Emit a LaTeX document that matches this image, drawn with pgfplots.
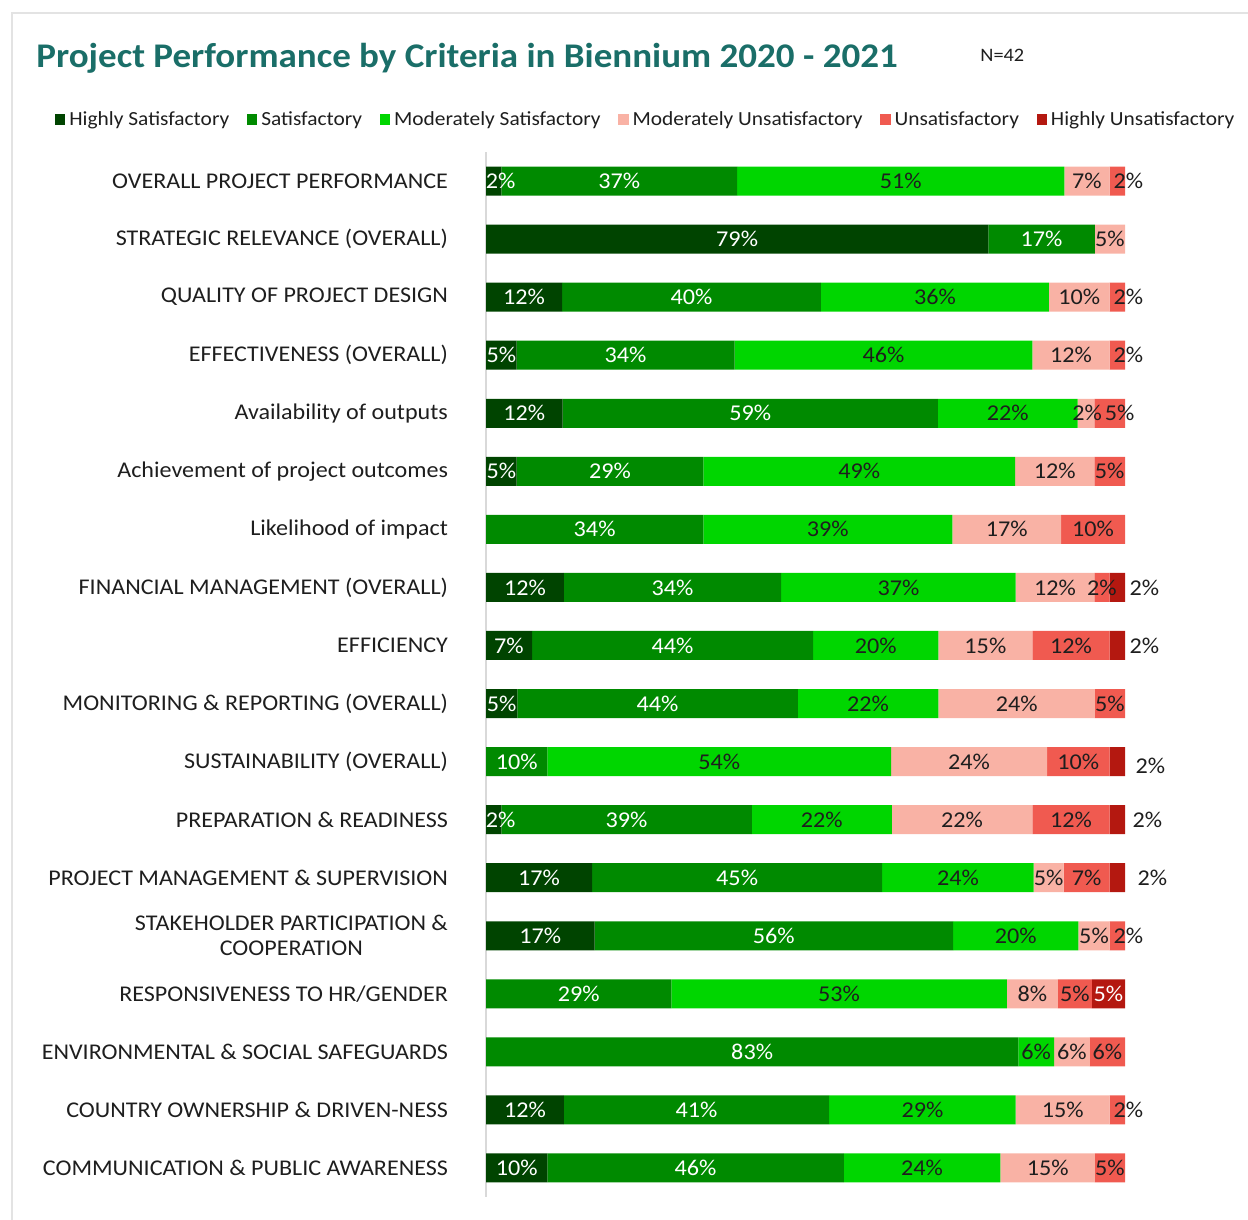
\documentclass[border=0pt]{standalone}
\usepackage{fontspec}
\setmainfont{Carlito}[FakeStretch=1.07]
\usepackage{pgfplots}
\usepackage{pgfplotstable}
\pgfplotsset{compat=1.18}

\definecolor{cHS}{RGB}{0,68,0}
\definecolor{cS}{RGB}{0,138,0}
\definecolor{cMS}{RGB}{0,214,0}
\definecolor{cMU}{RGB}{249,178,165}
\definecolor{cU}{RGB}{240,90,80}
\definecolor{cHU}{RGB}{180,24,16}
\definecolor{titlecol}{RGB}{26,110,104}
\definecolor{txt}{RGB}{30,30,30}

\newcommand\lblfont{\fontsize{11.3}{13}\selectfont}
\def\dashmark{-}
\newcommand\pctlab{\edef\tmp{\pgfplotspointmeta}\ifx\tmp\dashmark\else\pgfplotspointmeta\%\fi}
\newcommand\hulab{\ifdim\dx pt>8pt \color{txt}\fi\pctlab}

% columns: row, segment width (%), printed label, label x/y shift (pt)
\pgfplotstableread{
y v lab dx dy
0 2.4 2 3.5 0
1 78.6 79 0 0
2 11.9 12 0 0
3 4.8 5 0 0
4 12.0 12 0 0
5 4.8 5 0 0
6 0 - 0 0
7 12.2 12 0 0
8 7.2 7 0 0
9 4.9 5 0 0
10 0 - 0 0
11 2.4 2 3.5 0
12 16.6 17 0 0
13 17.0 17 0 0
14 0 - 0 0
15 0 - 0 0
16 12.2 12 0 0
17 9.6 10 0 0
}\tabHS
\pgfplotstableread{
y v lab dx dy
0 36.9 37 0 0
1 16.7 17 0 0
2 40.5 40 0 0
3 34.1 34 0 0
4 58.7 59 0 0
5 29.2 29 0 0
6 34.0 34 0 0
7 34.0 34 0 0
8 44.0 44 0 0
9 43.9 44 0 0
10 9.6 10 0 0
11 39.2 39 0 0
12 45.4 45 0 0
13 56.1 56 0 0
14 29.0 29 0 0
15 83.3 83 0 0
16 41.5 41 0 0
17 46.4 46 0 0
}\tabS
\pgfplotstableread{
y v lab dx dy
0 51.2 51 0 0
1 0 - 0 0
2 35.7 36 0 0
3 46.6 46 0 0
4 21.9 22 0 0
5 48.8 49 0 0
6 39.0 39 0 0
7 36.7 37 0 0
8 19.6 20 0 0
9 22.0 22 0 0
10 53.8 54 0 0
11 21.9 22 0 0
12 23.7 24 0 0
13 19.6 20 0 0
14 52.5 53 0 0
15 5.6 6 0 0
16 29.2 29 0 0
17 24.5 24 0 0
}\tabMS
\pgfplotstableread{
y v lab dx dy
0 7.1 7 0 0
1 4.7 5 0 0
2 9.5 10 0 0
3 12.1 12 0 0
4 2.6 2 0.5 0
5 12.4 12 0 0
6 17.0 17 0 0
7 12.3 12 0 0
8 14.7 15 0 0
9 24.5 24 0 0
10 24.4 24 0 0
11 22.0 22 0 0
12 4.7 5 0 0
13 4.9 5 0 0
14 8.0 8 0 0
15 5.6 6 0 0
16 14.7 15 0 0
17 14.8 15 0 0
}\tabMU
\pgfplotstableread{
y v lab dx dy
0 2.4 2 5.5 0
1 0 - 0 0
2 2.4 2 5.5 0
3 2.4 2 5.5 0
4 4.8 5 5 0
5 4.8 5 0 0
6 10.0 10 0 0
7 2.4 2 0 0
8 12.1 12 0 0
9 4.7 5 0 0
10 9.8 10 0 0
11 12.1 12 0 0
12 7.2 7 0 0
13 2.4 2 5.5 0
14 5.3 5 0 0
15 5.5 6 0 0
16 2.4 2 5.5 0
17 4.7 5 0 0
}\tabU
\pgfplotstableread{
y v lab dx dy
0 0 - 0 0
1 0 - 0 0
2 0 - 0 0
3 0 - 0 0
4 0 - 0 0
5 0 - 0 0
6 0 - 0 0
7 2.4 2 13.5 0
8 2.4 2 13.5 0
9 0 - 0 0
10 2.4 2 16.5 -2
11 2.4 2 15 0
12 2.4 2 17.5 0
13 0 - 0 0
14 5.2 5 0 0
15 0 - 0 0
16 0 - 0 0
17 0 - 0 0
}\tabHU

\pgfplotsset{
  seg/.style n args={3}{
    fill=#1, draw=none,
    legend image code/.code={\fill[##1] (0pt,-2.6pt) rectangle (5.2pt,2.6pt);},
    nodes near coords={#3},
    point meta=explicit symbolic,
    visualization depends on={\thisrow{dx} \as \dx},
    visualization depends on={\thisrow{dy} \as \dy},
    nodes near coords align={center},
    every node near coord/.append style={font=\lblfont, text=#2, inner sep=0pt,
      anchor=center, xshift=\dx pt, yshift=\dy pt},
  },
}

\begin{document}
\begin{tikzpicture}
\useasboundingbox (0,0) rectangle (624pt,-610pt);
\draw[gray!22, line width=1pt] (6pt,-611pt) -- (6pt,-6.5pt) -- (625pt,-6.5pt);
\node[anchor=base west, inner sep=0pt, text=titlecol, font=\fontsize{17.3}{20}\selectfont\bfseries]
  at (18pt,-34pt) {Project Performance by Criteria in Biennium 2020 - 2021};
\node[anchor=base west, inner sep=0pt, text=txt, font=\fontsize{9.5}{11}\selectfont]
  at (490pt,-31pt) {N=42};
\begin{axis}[
  at={(243pt,-76pt)}, anchor=north west,
  scale only axis, width=319.5pt, height=522.5pt,
  xbar stacked, bar width=14.5pt,
  xmin=0, xmax=100, ymin=-0.5, ymax=17.5, y dir=reverse,
  enlargelimits=false, clip=false,
  axis x line=none, axis y line*=left,
  y axis line style={draw=gray!30, line width=1pt},
  major tick length=0pt,
  ytick={0,...,17},
  yticklabels={OVERALL PROJECT PERFORMANCE, STRATEGIC RELEVANCE (OVERALL), QUALITY OF PROJECT DESIGN, EFFECTIVENESS (OVERALL), Availability of outputs, Achievement of project outcomes, Likelihood of impact, FINANCIAL MANAGEMENT (OVERALL), EFFICIENCY, MONITORING \& REPORTING (OVERALL), SUSTAINABILITY (OVERALL), PREPARATION \& READINESS, PROJECT MANAGEMENT \& SUPERVISION, {STAKEHOLDER PARTICIPATION \&\\COOPERATION}, RESPONSIVENESS TO HR/GENDER, ENVIRONMENTAL \& SOCIAL SAFEGUARDS, COUNTRY OWNERSHIP \& DRIVEN-NESS, COMMUNICATION \& PUBLIC AWARENESS},
  yticklabel style={font=\fontsize{11.25}{12.5}\selectfont, text=txt, align=center, xshift=-15.5pt},
  legend columns=6,
  legend style={draw=none, fill=none, inner sep=0pt, outer sep=0pt,
    at={(axis description cs:-0.6745,1.031)}, anchor=west,
    font=\fontsize{10}{12}\selectfont, text=txt,
    /tikz/every even column/.append style={column sep=6.8pt}},
  legend cell align=left,
]
\addplot[seg={cHS}{white}{\pctlab}] table[x=v, y=y, meta=lab] {\tabHS};
\addplot[seg={cS}{white}{\pctlab}] table[x=v, y=y, meta=lab] {\tabS};
\addplot[seg={cMS}{txt}{\pctlab}] table[x=v, y=y, meta=lab] {\tabMS};
\addplot[seg={cMU}{txt}{\pctlab}] table[x=v, y=y, meta=lab] {\tabMU};
\addplot[seg={cU}{txt}{\pctlab}] table[x=v, y=y, meta=lab] {\tabU};
\addplot[seg={cHU}{white}{\hulab}] table[x=v, y=y, meta=lab] {\tabHU};
\legend{Highly Satisfactory, Satisfactory, Moderately Satisfactory, Moderately Unsatisfactory, Unsatisfactory, Highly Unsatisfactory}
\end{axis}
\end{tikzpicture}
\end{document}
